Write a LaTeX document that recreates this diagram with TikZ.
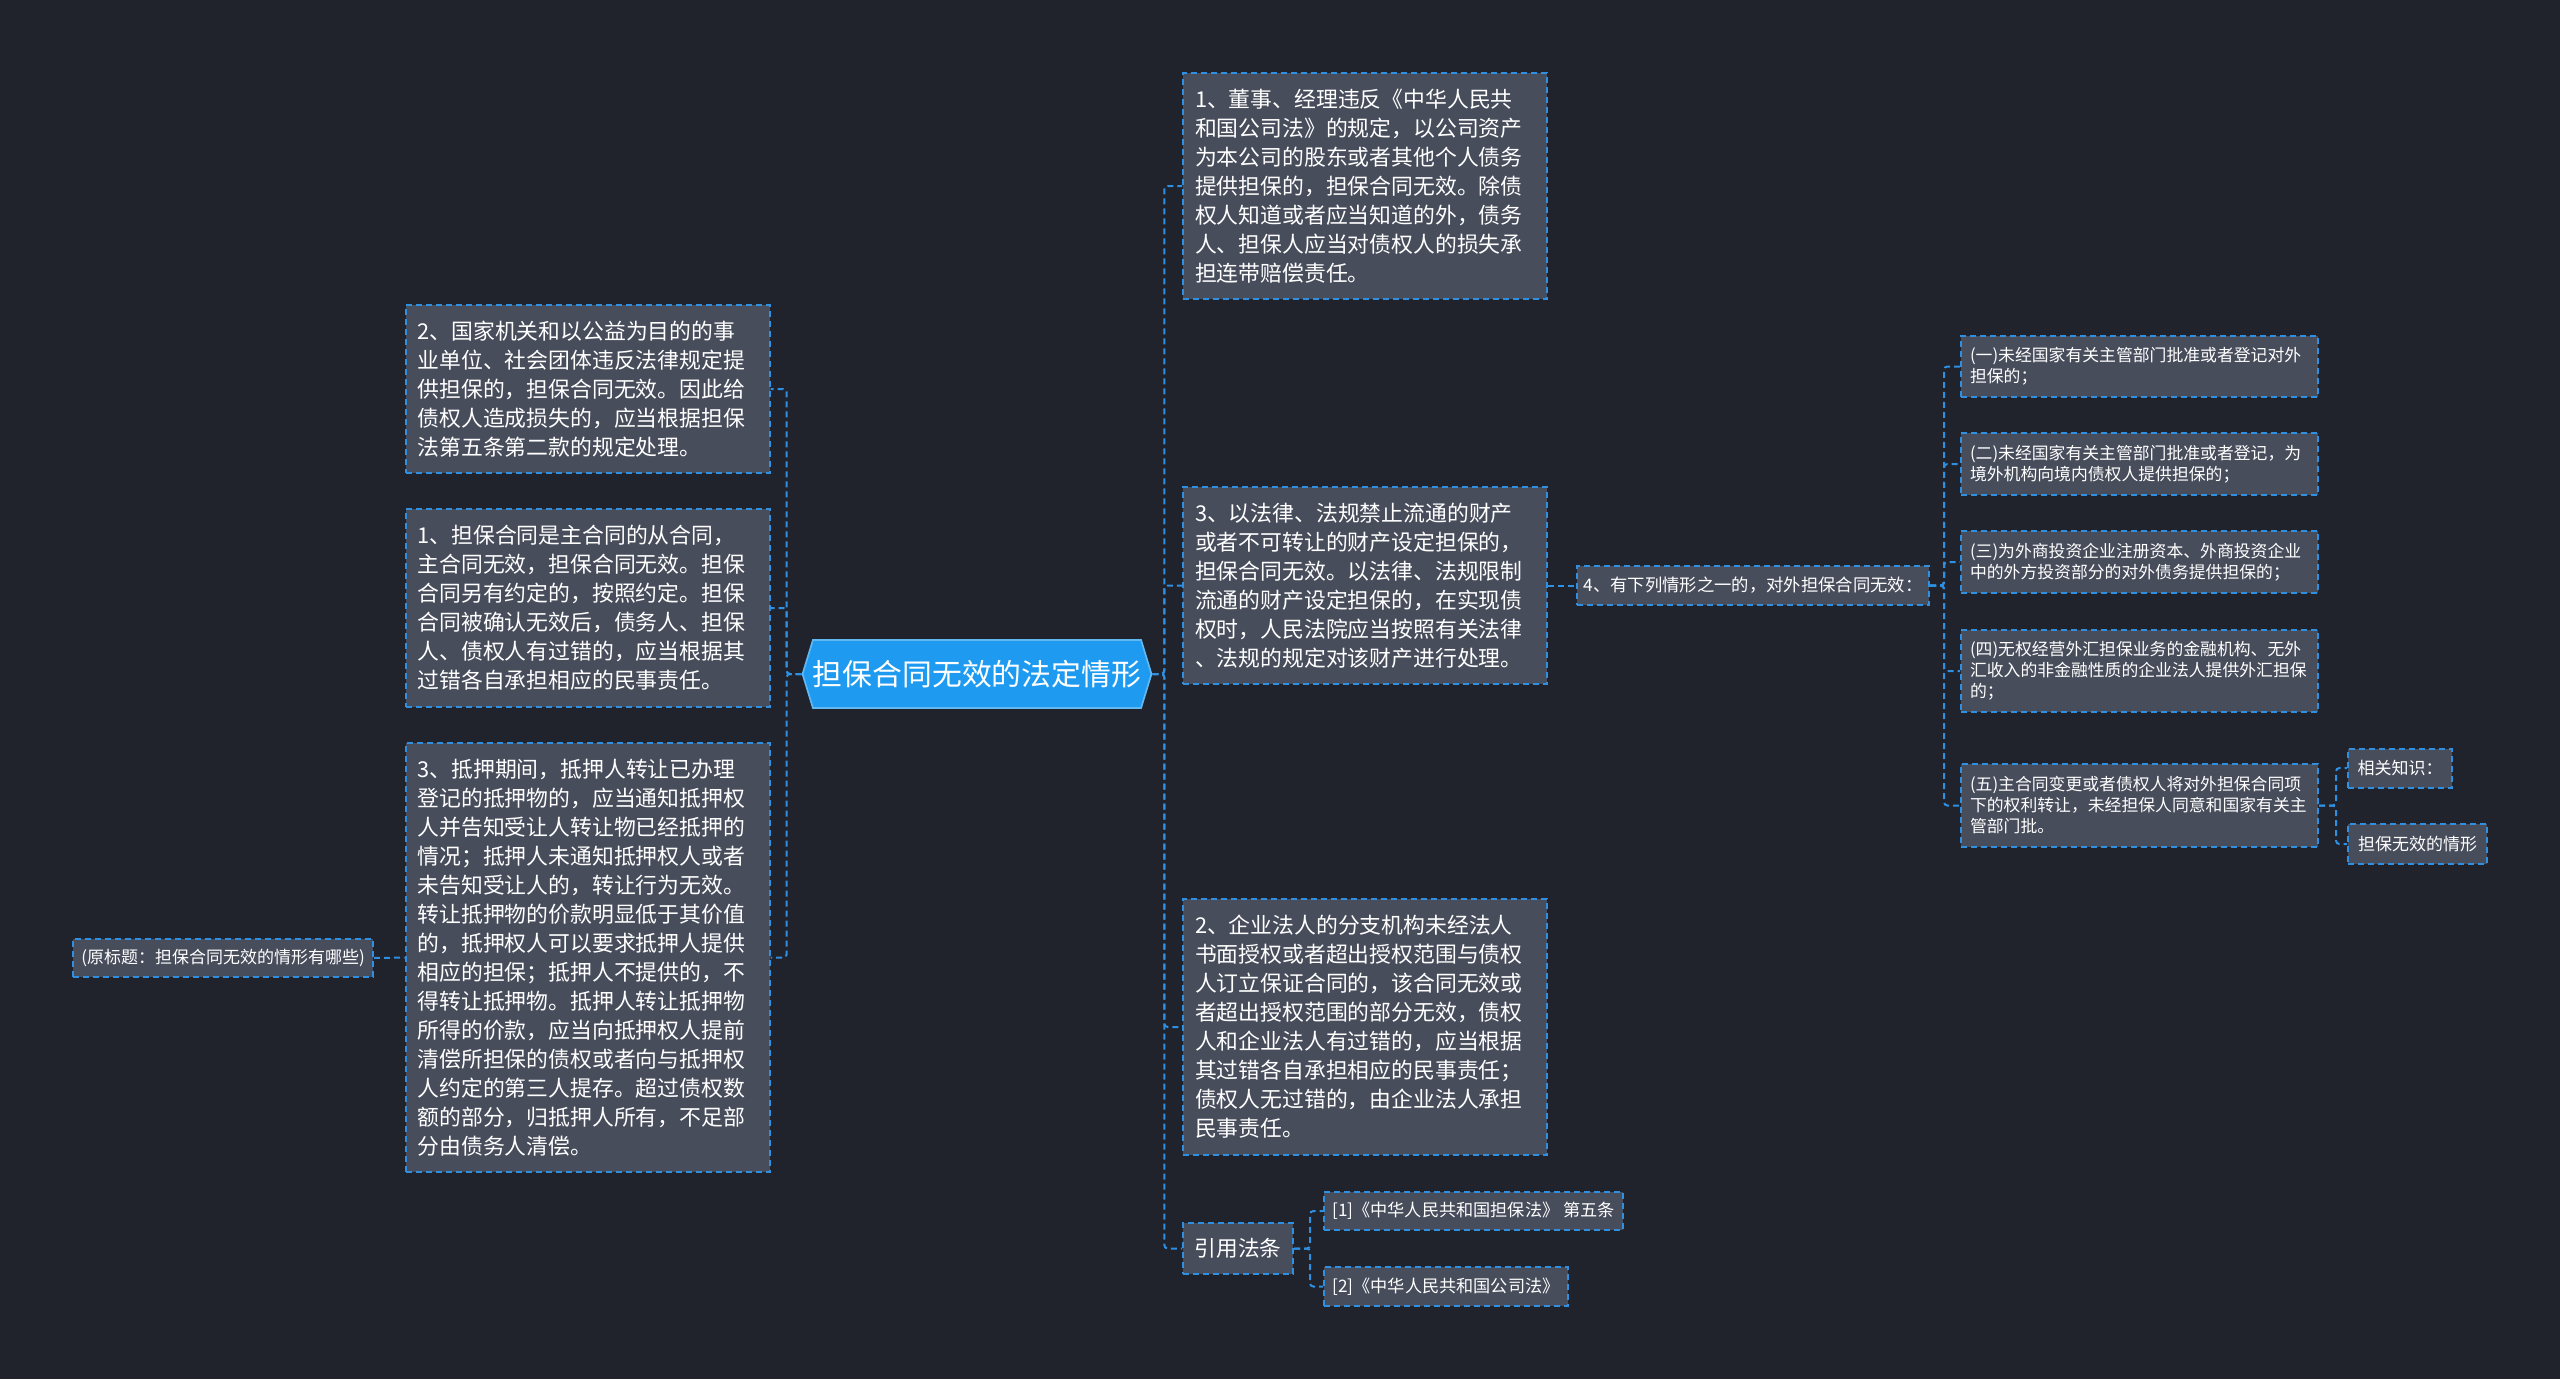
\documentclass[tikz,border=0pt]{standalone}
\usepackage{fontspec}
\setmainfont{Noto Sans CJK SC}
\usetikzlibrary{shapes.symbols}

\definecolor{bgdark}{HTML}{20222C}
\definecolor{boxgray}{HTML}{484D5C}
\definecolor{lineblue}{HTML}{2F8FE0}
\definecolor{rootblue}{HTML}{1E9BF0}

\tikzset{
  link/.style={draw=lineblue, line width=0.6pt, dash pattern=on 1.8pt off 1.2pt, rounded corners=1pt},
  box/.style={draw=lineblue, fill=boxgray, line width=0.6pt, dash pattern=on 1.8pt off 1.2pt, text=white, inner ysep=0pt},
  bigbox/.style={box, font=\fontsize{6.55}{8.7}\selectfont, align=left, text width=102pt, inner xsep=3.6pt},
  smallbox/.style={box, font=\fontsize{5.05}{6.3}\selectfont, align=left, text width=101.7pt, inner xsep=2.7pt},
  tagbox/.style={box, inner xsep=0pt, align=center},
  rootnode/.style={signal, signal to=west and east, signal pointer angle=146, fill=rootblue,
    draw=rootblue!70!white, line width=0.5pt, text=white, font=\fontsize{8.95}{11}\selectfont,
    minimum width=101pt, minimum height=20.4pt, inner sep=0pt}
}

\begin{document}
\begin{tikzpicture}[x=0.3pt, y=-0.3pt]
    \useasboundingbox (0,0) rectangle (2560,1379);
    \fill[bgdark] (0,0) rectangle (2560,1379);

    % ---- Tema central ----
    \node[rootnode] (root) at (977,674) {担保合同无效的法定情形};

    % ---- Rama izquierda ----
    \node[bigbox, minimum height=50.4pt] (l2) at (587.5,389) {2、国家机关和以公益为目的的事\\业单位、社会团体违反法律规定提\\供担保的，担保合同无效。因此给\\债权人造成损失的，应当根据担保\\法第五条第二款的规定处理。};
    \node[bigbox, minimum height=59.4pt] (l1) at (587.5,608) {1、担保合同是主合同的从合同，\\主合同无效，担保合同无效。担保\\合同另有约定的，按照约定。担保\\合同被确认无效后，债务人、担保\\人、债权人有过错的，应当根据其\\过错各自承担相应的民事责任。};
    \node[bigbox, minimum height=128.7pt] (l3) at (587.5,957.5) {3、抵押期间，抵押人转让已办理\\登记的抵押物的，应当通知抵押权\\人并告知受让人转让物已经抵押的\\情况；抵押人未通知抵押权人或者\\未告知受让人的，转让行为无效。\\转让抵押物的价款明显低于其价值\\的，抵押权人可以要求抵押人提供\\相应的担保；抵押人不提供的，不\\得转让抵押物。抵押人转让抵押物\\所得的价款，应当向抵押权人提前\\清偿所担保的债权或者向与抵押权\\人约定的第三人提存。超过债权数\\额的部分，归抵押人所有，不足部\\分由债务人清偿。};
    \node[tagbox, font=\fontsize{5.1}{6}\selectfont, minimum width=90pt, minimum height=11.4pt] (orig) at (223,958) {(原标题：担保合同无效的情形有哪些)};

    \draw[link] (root.west) -- ++(-15,0) |- (l2.east);
    \draw[link] (root.west) -- ++(-15,0) |- (l1.east);
    \draw[link] (root.west) -- ++(-15,0) |- (l3.east);
    \draw[link] (orig.east) -- (l3.west);

    % ---- Rama derecha ----
    \node[bigbox, minimum height=67.8pt] (r1) at (1365,186) {1、董事、经理违反《中华人民共\\和国公司法》的规定，以公司资产\\为本公司的股东或者其他个人债务\\提供担保的，担保合同无效。除债\\权人知道或者应当知道的外，债务\\人、担保人应当对债权人的损失承\\担连带赔偿责任。};
    \node[bigbox, minimum height=59.1pt] (r3) at (1365,585.5) {3、以法律、法规禁止流通的财产\\或者不可转让的财产设定担保的，\\担保合同无效。以法律、法规限制\\流通的财产设定担保的，在实现债\\权时，人民法院应当按照有关法律\\、法规的规定对该财产进行处理。};
    \node[bigbox, minimum height=76.8pt] (r2) at (1365,1027) {2、企业法人的分支机构未经法人\\书面授权或者超出授权范围与债权\\人订立保证合同的，该合同无效或\\者超出授权范围的部分无效，债权\\人和企业法人有过错的，应当根据\\其过错各自承担相应的民事责任；\\债权人无过错的，由企业法人承担\\民事责任。};
    \node[tagbox, font=\fontsize{6.5}{7.5}\selectfont, minimum width=33pt, minimum height=15.3pt] (cite) at (1238,1248.5) {引用法条};

    \draw[link] (root.east) -- ++(12,0) |- (r1.west);
    \draw[link] (root.east) -- ++(12,0) |- (r3.west);
    \draw[link] (root.east) -- ++(12,0) |- (r2.west);
    \draw[link] (root.east) -- ++(12,0) |- (cite.west);

    % Referencias
    \node[tagbox, font=\fontsize{5.15}{6}\selectfont, minimum width=89.7pt, minimum height=11.4pt] (c1) at (1473.5,1211) {[1]《中华人民共和国担保法》 第五条};
    \node[tagbox, font=\fontsize{5.15}{6}\selectfont, minimum width=73.2pt, minimum height=11.7pt] (c2) at (1446,1286.5) {[2]《中华人民共和国公司法》};
    \draw[link] (cite.east) -- ++(16,0) |- (c1.west);
    \draw[link] (cite.east) -- ++(16,0) |- (c2.west);

    % ---- Punto 4 y sus casos ----
    \node[tagbox, font=\fontsize{5.2}{6}\selectfont, minimum width=105.6pt, minimum height=11.7pt] (r4) at (1753,585.5) {4、有下列情形之一的，对外担保合同无效：};
    \draw[link] (r3.east) -- (r4.west);

    \node[smallbox, minimum height=18.3pt] (s1) at (2139.5,366.5) {(一)未经国家有关主管部门批准或者登记对外\\担保的；};
    \node[smallbox, minimum height=18.6pt] (s2) at (2139.5,464) {(二)未经国家有关主管部门批准或者登记，为\\境外机构向境内债权人提供担保的；};
    \node[smallbox, minimum height=18.6pt] (s3) at (2139.5,562) {(三)为外商投资企业注册资本、外商投资企业\\中的外方投资部分的对外债务提供担保的；};
    \node[smallbox, minimum height=24.6pt] (s4) at (2139.5,671) {(四)无权经营外汇担保业务的金融机构、无外\\汇收入的非金融性质的企业法人提供外汇担保\\的；};
    \node[smallbox, minimum height=24.9pt] (s5) at (2139.5,805.5) {(五)主合同变更或者债权人将对外担保合同项\\下的权利转让，未经担保人同意和国家有关主\\管部门批。};
    \foreach \s in {s1,s2,s3,s4,s5}
        \draw[link] (r4.east) -- ++(14,0) |- (\s.west);

    % Conocimientos relacionados
    \node[tagbox, font=\fontsize{5.1}{6}\selectfont, minimum width=31.2pt, minimum height=11.7pt] (k1) at (2400,768) {相关知识：};
    \node[tagbox, font=\fontsize{5.1}{6}\selectfont, minimum width=41.7pt, minimum height=12pt] (k2) at (2417.5,844) {担保无效的情形};
    \draw[link] (s5.east) -- ++(17,0) |- (k1.west);
    \draw[link] (s5.east) -- ++(17,0) |- (k2.west);
\end{tikzpicture}
\end{document}
